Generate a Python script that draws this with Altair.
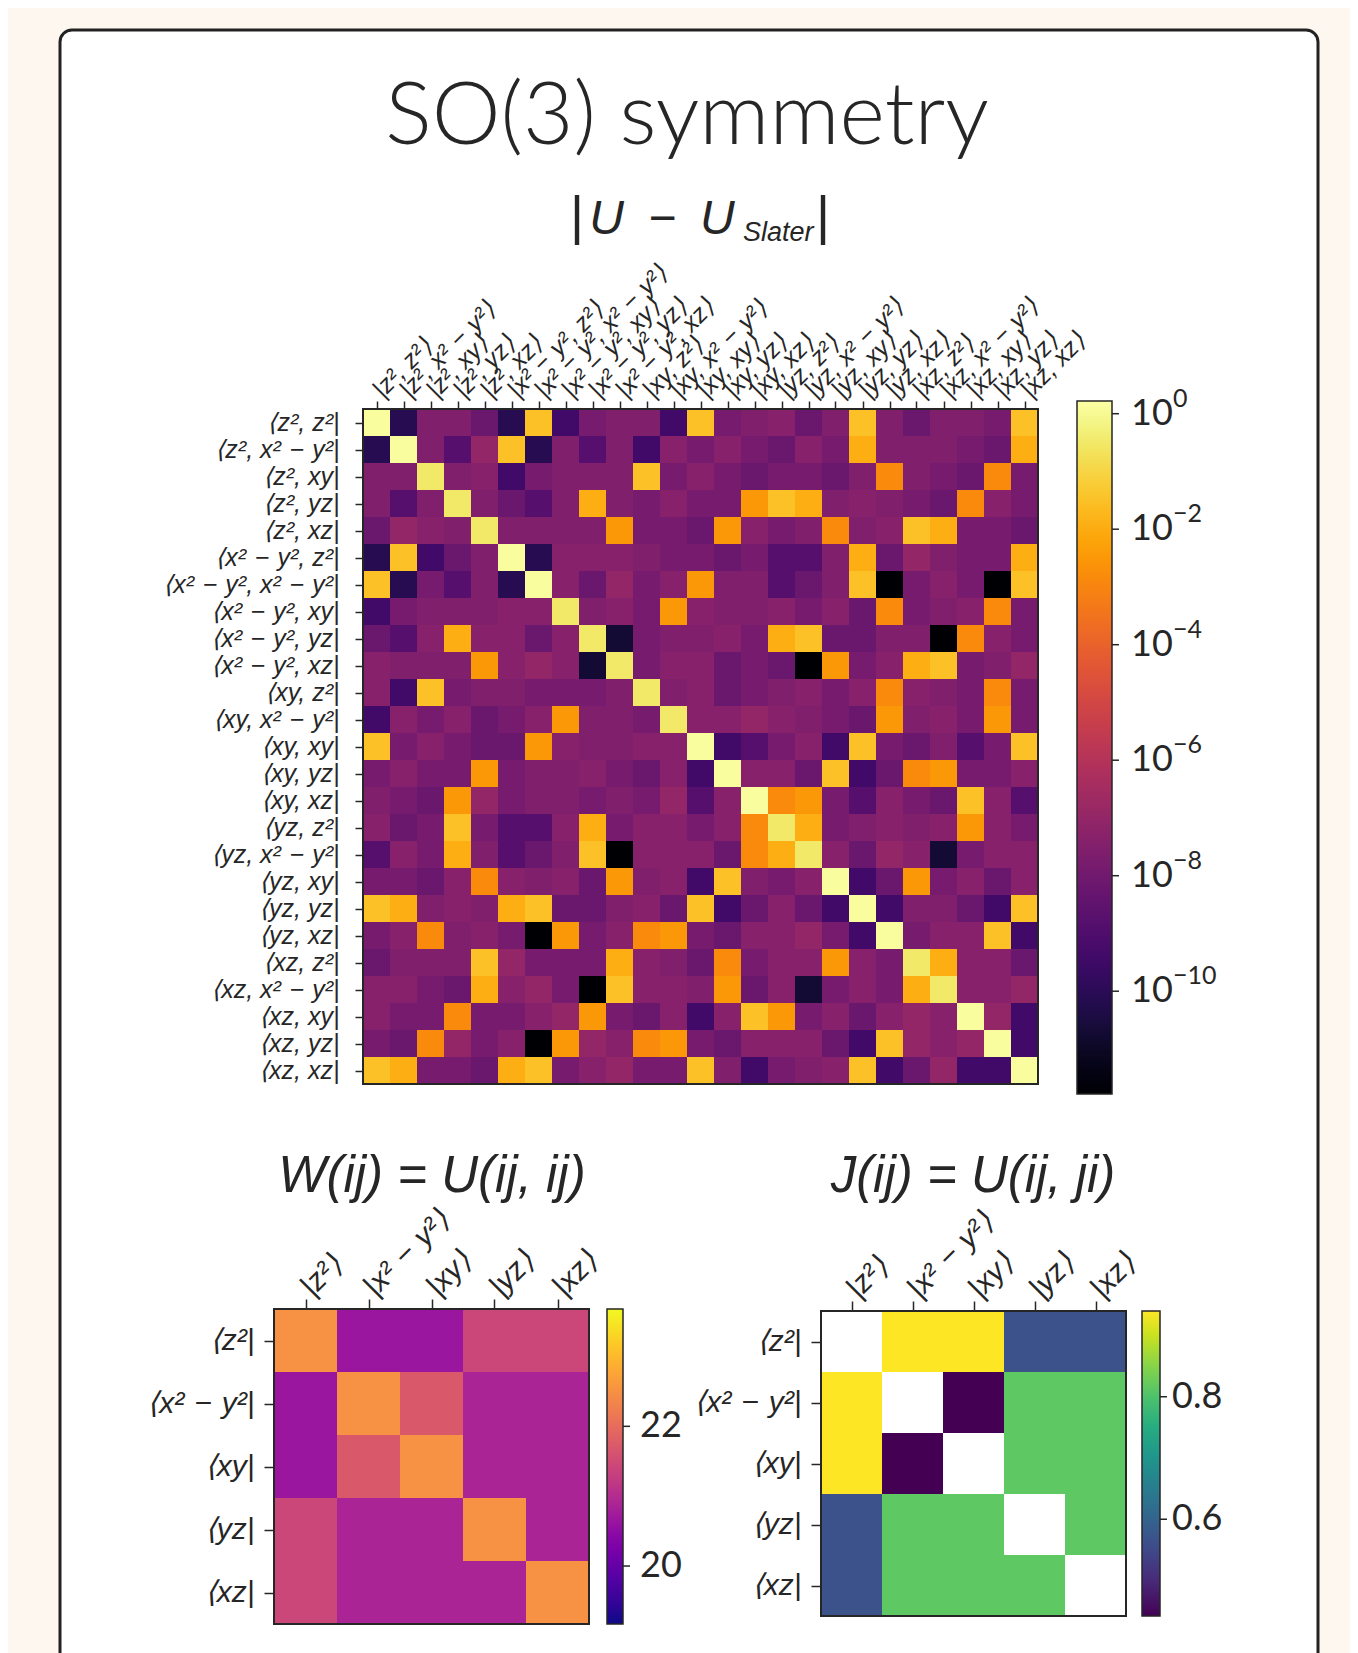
import altair as alt
import pandas as pd

INK = "#262626"
BG = "#fdf7f0"
MATH_FONT = "Liberation Sans"
NUM_FONT = "Lato"

# ---------------- text ----------------
TITLE = "SO(3) symmetry"
SUB_BAR = "|"
SUB_MAIN = "U\u2002\u2212\u2002U"
SUB_SUB = "Slater"
W_TITLE = "W(ij) = U(ij, ij)"
J_TITLE = "J(ij) = U(ij, ji)"

ORBITALS = ["z²", "x²\u2004\u2212\u2004y²", "xy", "yz", "xz"]
PAIR_ROW_LABELS = [f"\u27e8{a}, {b}|" for a in ORBITALS for b in ORBITALS]
PAIR_COL_LABELS = [f"|{a}, {b}\u27e9" for a in ORBITALS for b in ORBITALS]
ORB_ROW_LABELS = [f"\u27e8{a}|" for a in ORBITALS]
ORB_COL_LABELS = [f"|{a}\u27e9" for a in ORBITALS]

# ---------------- |U - U_Slater| (read as colour shades) ----------------
# shade code -> log10 of the value, read against the colour bar
SHADE_LOG10 = {
    "P": 0.15, "Q": -0.5, "G": -1.5, "Y": -1.95, "O": -2.5, "D": -2.85,
    "R": -7.0, "M": -7.35, "m": -7.55, "p": -7.85, "q": -8.2, "v": -8.8,
    "V": -9.4, "K": -10.1, "k": -10.7, "B": -11.78,
}
DIFF_ROWS = [
    "PKmmqKGVpmmVGpmMqmGmqmmpG",
    "KPmvRGKmvmVMpMpqMpYmmmpqY",
    "mmQmMVpmmmGpMpqppqmDmpqDp",
    "mvmQmqvmYmpMppOGYmMmpqDMp",
    "qRMmQmmmmOppqOMpmDmMGYppq",
    "KGVqmPKMMMmppqpvvmYqRmppY",
    "GKpvmKPMqRpMOmmvqmGBpMpBG",
    "VpmmmMMQmMpOMmmMpMqDpmMDp",
    "qvMYMMqMQkpmmMpYGqqmmBDMp",
    "MmmmOMRMkQpMMqpqBOpMYGpmR",
    "MVGpmmpppmQmMqpmMpMDMmpDp",
    "VMpMqpMOmmpQMMRMmpqOmMpOp",
    "GpMpqqOMmmMMPVvpMVGpqmvpG",
    "pMppOpmmMpqMVPMMqGVqDOppM",
    "mpqORpmmpmpRvMPDOpvMpqGMv",
    "MqpGpvvMYpMMpMDQYpmMmMOMp",
    "vMpYmvqmGBMMMqDYQMqRMkpMM",
    "ppqMDMmMqOmMVGmpMPVqOpMqM",
    "GYmMmYGqqmMqGVqMqVPVmmqVG",
    "pMDmMpBOpMDOpqMMRpVPpMMGV",
    "qmmmGRpppYMmqDpMMOMpQYMMq",
    "MMpqYMRpBGMMmOqMkpMpYQMMR",
    "MppDppMROpqMVMGOpMqMRMPRV",
    "pqDRpMBORMDOpqMMMqVGRMRPV",
    "GYppqYGpMRppGmVpmMGVqRVVP",
]
DIFF_DOMAIN = [10 ** -11.78, 10 ** 0.22]
DIFF_TICKS = [1, 1e-2, 1e-4, 1e-6, 1e-8, 1e-10]
DIFF_TICK_BASE = ["10", "10", "10", "10", "10", "10"]
DIFF_TICK_EXP = ["0", "\u22122", "\u22124", "\u22126", "\u22128", "\u221210"]

# ---------------- W(ij) = U(ij, ij) ----------------
W_ROWS = [
    [22.50, 20.66, 20.66, 21.42, 21.42],
    [20.66, 22.50, 21.70, 20.88, 20.88],
    [20.66, 21.70, 22.50, 20.88, 20.88],
    [21.42, 20.88, 20.88, 22.50, 20.88],
    [21.42, 20.88, 20.88, 20.88, 22.50],
]
W_DOMAIN = [19.17, 23.68]
W_TICKS = [20, 22]
W_TICK_TEXT = ["20", "22"]

# ---------------- J(ij) = U(ij, ji) (diagonal empty) ----------------
J_ROWS = [
    [None, 0.940, 0.940, 0.566, 0.566],
    [0.940, None, 0.442, 0.816, 0.816],
    [0.940, 0.442, None, 0.816, 0.816],
    [0.566, 0.816, 0.816, None, 0.816],
    [0.566, 0.816, 0.816, 0.816, None],
]
J_DOMAIN = [0.442, 0.940]
J_TICKS = [0.6, 0.8]
J_TICK_TEXT = ["0.6", "0.8"]


def cells(rows):
    recs = []
    for i, row in enumerate(rows):
        for j, val in enumerate(row):
            if val is None:
                continue
            recs.append({"r": i, "r2": i + 1, "c": j, "c2": j + 1, "v": val})
    return pd.DataFrame(recs)


def label_expr(labels):
    arr = ",".join("'" + s + "'" for s in labels)
    return "[" + arr + "][floor(datum.value)]"


def heatmap(df, n, xr, yr, col_labels, row_labels, xlab_size, ylab_size, tick,
            pad_top, pad_left, color_scale, legend):
    def xs():
        return alt.Scale(domain=[0, n], range=xr, nice=False, zero=False)

    def ys():
        return alt.Scale(domain=[0, n], range=yr, nice=False, zero=False)

    ticks = [k + 0.5 for k in range(n)]
    common = dict(values=ticks, grid=False, domain=False, title=None,
                  labelFont=MATH_FONT, labelFontStyle="italic",
                  labelColor=INK, tickColor=INK, tickWidth=1.5, tickSize=tick,
                  labelOverlap=False, labelFlush=False, labelLimit=400)
    xa = alt.Axis(orient="top", offset=-yr[0], labelAngle=315, labelAlign="left",
                  labelBaseline="middle", labelPadding=pad_top, labelFontSize=xlab_size,
                  labelExpr=label_expr(col_labels), **common)
    ya = alt.Axis(orient="left", offset=-xr[0], labelAlign="right",
                  labelBaseline="middle", labelPadding=pad_left, labelFontSize=ylab_size,
                  labelExpr=label_expr(row_labels), **common)
    rect = alt.Chart(df).mark_rect().encode(
        x=alt.X("c:Q", scale=xs(), axis=xa), x2="c2:Q",
        y=alt.Y("r:Q", scale=ys(), axis=ya), y2="r2:Q",
        color=alt.Color("v:Q", scale=color_scale, legend=legend),
    )
    frame = alt.Chart(pd.DataFrame({"a": [0], "b": [n]})).mark_rect(
        filled=False, stroke=INK, strokeWidth=2
    ).encode(
        x=alt.X("a:Q", scale=xs(), axis=None), x2="b:Q",
        y=alt.Y("a:Q", scale=ys(), axis=None), y2="b:Q",
    )
    return [rect, frame]


def gradient_legend(x, y, length, thick):
    return alt.Legend(orient="none", legendX=x, legendY=y, direction="vertical",
                      gradientLength=length, gradientThickness=thick, title=None,
                      labelExpr="''", labelFontSize=1, padding=0,
                      gradientStrokeColor=INK, gradientStrokeWidth=1.5)


def colorbar_guides(values, base, exp, stype, domain, x_left, y_top, length, thick, gap):
    def ys():
        if stype == "log":
            return alt.Scale(type="log", domain=domain, range=[y_top + length, y_top],
                             nice=False, zero=False)
        return alt.Scale(domain=domain, range=[y_top + length, y_top], nice=False, zero=False)

    df = pd.DataFrame({"v": values, "base": base})
    x_bar = x_left + thick
    ticks = alt.Chart(df).mark_rule(color=INK, strokeWidth=1.5).encode(
        y=alt.Y("v:Q", scale=ys(), axis=None),
        x=alt.value(x_bar), x2=alt.value(x_bar + 7),
    )
    base_txt = alt.Chart(df).mark_text(
        font=NUM_FONT, fontSize=36, align="left", baseline="middle", color=INK
    ).encode(
        y=alt.Y("v:Q", scale=ys(), axis=None), x=alt.value(x_bar + gap), text="base:N",
    )
    out = [ticks, base_txt]
    if exp is not None:
        dfe = pd.DataFrame({"v": values, "exp": exp})
        exp_txt = alt.Chart(dfe).mark_text(
            font=NUM_FONT, fontSize=25, align="left", baseline="middle",
            color=INK, dy=-15,
        ).encode(
            y=alt.Y("v:Q", scale=ys(), axis=None), x=alt.value(x_bar + gap + 42), text="exp:N",
        )
        out.append(exp_txt)
    return out


big_df = cells([[10 ** SHADE_LOG10[ch] for ch in row] for row in DIFF_ROWS])
layers = []
layers += heatmap(
    big_df, 25, [303, 978], [379, 1054], PAIR_COL_LABELS, PAIR_ROW_LABELS, 25, 25, 8, 8, 16,
    alt.Scale(type="log", scheme="inferno", domain=DIFF_DOMAIN, clamp=True),
    gradient_legend(1017, 371, 693, 35),
)
layers += heatmap(
    cells(W_ROWS), 5, [214, 529], [1279, 1594], ORB_COL_LABELS, ORB_ROW_LABELS, 30, 30, 10, 8, 10,
    alt.Scale(scheme="plasma", domain=W_DOMAIN, clamp=True),
    gradient_legend(547, 1279, 315, 16),
)
layers += heatmap(
    cells(J_ROWS), 5, [761, 1066], [1281, 1586], ORB_COL_LABELS, ORB_ROW_LABELS, 30, 30, 10, 8, 10,
    alt.Scale(scheme="viridis", domain=J_DOMAIN, clamp=True),
    gradient_legend(1082, 1281, 305, 18),
)
layers += colorbar_guides(DIFF_TICKS, DIFF_TICK_BASE, DIFF_TICK_EXP, "log", DIFF_DOMAIN,
                          1017, 371, 693, 35, 19)
layers += colorbar_guides(W_TICKS, W_TICK_TEXT, None, "linear", W_DOMAIN,
                          547, 1279, 315, 16, 17)
layers += colorbar_guides(J_TICKS, J_TICK_TEXT, None, "linear", J_DOMAIN,
                          1082, 1281, 305, 18, 12)


def text(t, x, y, size, font, style="normal", align="center", weight=400):
    return alt.Chart(pd.DataFrame({"t": [t]})).mark_text(
        font=font, fontSize=size, fontStyle=style, fontWeight=weight, align=align,
        baseline="alphabetic", color=INK
    ).encode(text="t:N", x=alt.value(x), y=alt.value(y))


layers += [
    text(TITLE, 627, 114, 87, NUM_FONT, weight=300),
    text(SUB_BAR, 517, 204, 54, MATH_FONT),
    text(SUB_MAIN, 602, 204, 48, MATH_FONT, "italic"),
    text(SUB_SUB, 683, 211, 27, MATH_FONT, "italic", "left"),
    text(SUB_BAR, 763, 204, 54, MATH_FONT),
    text(W_TITLE, 372, 1162, 51, MATH_FONT, "italic"),
    text(J_TITLE, 913, 1162, 51, MATH_FONT, "italic"),
]

chart = alt.layer(*layers).resolve_scale(
    x="independent", y="independent", color="independent"
).properties(
    width=1258, height=1640, background=BG,
    padding={"left": 52, "top": 22, "right": 32, "bottom": 0},
).configure_view(
    fill="white", stroke="#222222", strokeWidth=3, cornerRadius=12
)

chart.save("out.html", embed_options={"renderer": "svg", "actions": False})
